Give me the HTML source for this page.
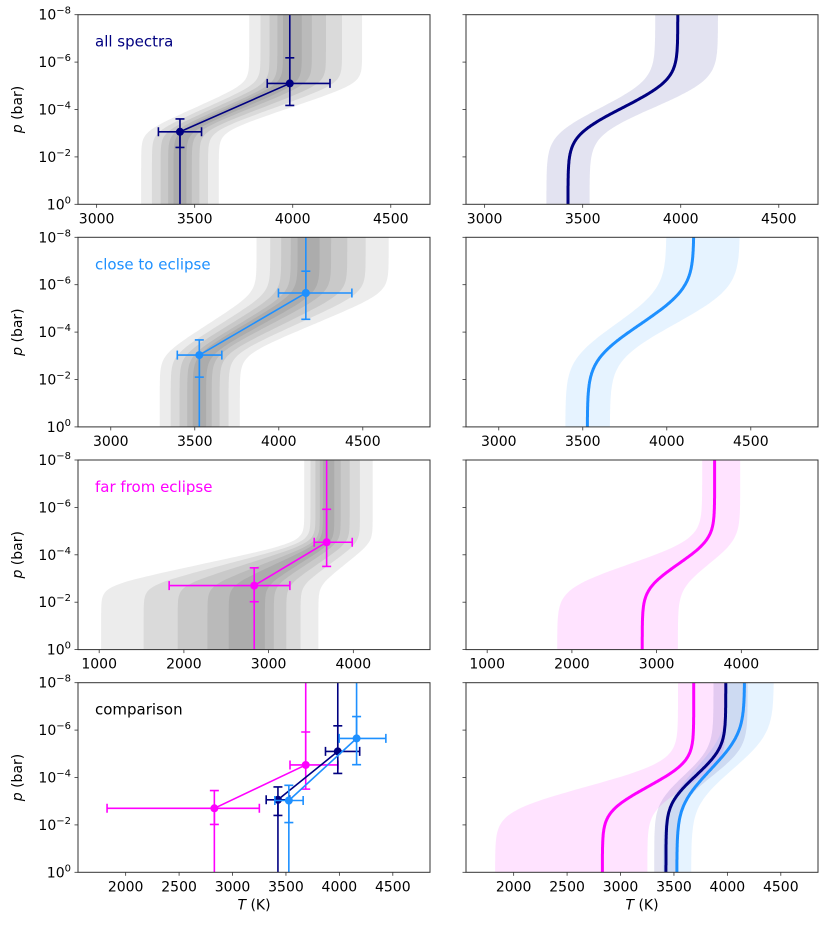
<!DOCTYPE html>
<html><head><meta charset="utf-8"><style>
body{margin:0;background:#fff;}
svg{display:block;font-family:"DejaVu Sans","Liberation Sans",sans-serif;}
</style></head><body>
<svg id="fig" width="830" height="925" viewBox="0 0 830 925" xmlns="http://www.w3.org/2000/svg"></svg>
<script>
// ---- data ----
const datasetNames = ["all spectra","close to eclipse","far from eclipse"];
const datasetColors = ["#000080","#1e90ff","#ff00ff"];
const pointT   = [[3425,3985],[3527,4161],[2830,3685]];
const pointTlo = [[3315,3870],[3396,3998],[1826,3538]];
const pointThi = [[3535,4190],[3661,4435],[3251,3987]];
const pointLogP   = [[-3.06,-5.10],[-3.03,-5.65],[-2.70,-4.53]];
const pointLogPUp = [[-3.60,-6.18],[-3.67,-6.57],[-3.45,-5.92]];
const pointLogPDn = [[-2.40,-4.17],[-2.10,-4.54],[-2.02,-3.51]];
const rowXLim = [[2905,4700],[2805,4900],[750,4905],[1554,4848]];
const rowTicks = [[3000,3500,4000,4500],[3000,3500,4000,4500],[1000,2000,3000,4000],[2000,2500,3000,3500,4000,4500]];
const yTicks = [0,-2,-4,-6,-8];
const grayScales = [1.8,1.3,0.9,0.55,0.3];

const NS="http://www.w3.org/2000/svg";
const svg=document.getElementById('fig');
const colX=[78,466], W=352, rowY=[14.7,237.3,460,682.7], H=189.6;
function mk(tag,attrs,parent){const e=document.createElementNS(NS,tag);for(const k in attrs)e.setAttribute(k,attrs[k]);(parent||svg).appendChild(e);return e;}
function sp(x){return x>30?x:Math.log(1+Math.exp(x));}
function prof(lp,Tl,Th,lp1,lp2,k){const u=(lp-lp1)/(lp2-lp1);const f=(sp(k*u)-sp(k*(u-1)))/k;return Tl+(Th-Tl)*f;}
function lpGrid(){const a=[];for(let i=0;i<=200;i++)a.push(-i*8/200);return a;}

function panel(r,c){
  const x0=colX[c],y0=rowY[r],lim=rowXLim[r];
  const sx=t=>x0+(t-lim[0])/(lim[1]-lim[0])*W;
  const sy=lp=>y0+H+lp/8*H;
  const g=mk('g',{});
  
  
  const cid=`clip${r}${c}`;
  const cp=mk('clipPath',{id:cid},g);mk('rect',{x:x0,y:y0,width:W,height:H},cp);
  const plot=mk('g',{'clip-path':`url(#${cid})`},g);
  const grid=lpGrid();
  const sets=r<3?[r]:[2,0,1];
  function bandPath(i,lowT,highT,k){
    const L=grid.map(lp=>[sx(prof(lp,lowT[0],lowT[1],pointLogP[i][0],pointLogP[i][1],k)),sy(lp)]);
    const R=grid.map(lp=>[sx(prof(lp,highT[0],highT[1],pointLogP[i][0],pointLogP[i][1],k)),sy(lp)]).reverse();
    return 'M'+L.concat(R).map(p=>p[0].toFixed(1)+','+p[1].toFixed(1)).join('L')+'Z';
  }
  if(c===0){
    if(r<3){
      const i=r;
      grayScales.forEach((s,j)=>{
        const lo=[0,1].map(m=>pointT[i][m]-s*(pointT[i][m]-pointTlo[i][m]));
        const hi=[0,1].map(m=>pointT[i][m]+s*(pointThi[i][m]-pointT[i][m]));
        const p=mk('path',{d:bandPath(i,lo,hi,10),fill:'#000','fill-opacity':0.075},plot);
        
        
      });
    }
    sets.forEach(i=>{
      const col=datasetColors[i];
      const eg=mk('g',{stroke:col,'stroke-width':1.6,fill:'none'},plot);
      
      
      mk('line',{x1:sx(pointT[i][0]),y1:sy(pointLogP[i][0]),x2:sx(pointT[i][1]),y2:sy(pointLogP[i][1])},eg);
      mk('line',{x1:sx(pointT[i][0]),y1:sy(pointLogP[i][0]),x2:sx(pointT[i][0]),y2:sy(0)},eg);
      mk('line',{x1:sx(pointT[i][1]),y1:sy(pointLogP[i][1]),x2:sx(pointT[i][1]),y2:sy(-8)},eg);
      for(let m=0;m<2;m++){
        const X=sx(pointT[i][m]),Y=sy(pointLogP[i][m]);
        mk('line',{x1:sx(pointTlo[i][m]),y1:Y,x2:sx(pointThi[i][m]),y2:Y},eg);
        mk('line',{x1:sx(pointTlo[i][m]),y1:Y-4.5,x2:sx(pointTlo[i][m]),y2:Y+4.5},eg);
        mk('line',{x1:sx(pointThi[i][m]),y1:Y-4.5,x2:sx(pointThi[i][m]),y2:Y+4.5},eg);
        mk('line',{x1:X,y1:sy(pointLogPUp[i][m]),x2:X,y2:sy(pointLogPDn[i][m])},eg);
        mk('line',{x1:X-4.5,y1:sy(pointLogPUp[i][m]),x2:X+4.5,y2:sy(pointLogPUp[i][m])},eg);
        mk('line',{x1:X-4.5,y1:sy(pointLogPDn[i][m]),x2:X+4.5,y2:sy(pointLogPDn[i][m])},eg);
        const d=mk('circle',{cx:X,cy:Y,r:4,fill:col,stroke:'none'},plot);
        
        
      }
    });
  } else {
    sets.forEach(i=>{
      const b=mk('path',{d:bandPath(i,pointTlo[i],pointThi[i],5),fill:datasetColors[i],'fill-opacity':0.11},plot);
      
      
    });
    sets.forEach(i=>{
      const pts=grid.map(lp=>sx(prof(lp,pointT[i][0],pointT[i][1],pointLogP[i][0],pointLogP[i][1],5)).toFixed(1)+','+sy(lp).toFixed(1));
      const l=mk('polyline',{points:pts.join(' '),fill:'none',stroke:datasetColors[i],'stroke-width':3},plot);
      
      
    });
  }
  const fr=mk('rect',{x:x0,y:y0,width:W,height:H,fill:'none',stroke:'#333','stroke-width':1},g);
  
  
  rowTicks[r].forEach(t=>{
    const X=sx(t);
    mk('line',{x1:X,y1:y0+H,x2:X,y2:y0+H+3.5,stroke:'#333','stroke-width':0.8},g);
    const tx=mk('text',{x:X,y:y0+H+19,'text-anchor':'middle','font-size':14,fill:'#000'},g);
    tx.textContent=t;
    
    
  });
  yTicks.forEach(v=>{
    const Y=sy(v);
    mk('line',{x1:x0,y1:Y,x2:x0-3.5,y2:Y,stroke:'#333','stroke-width':0.8},g);
    if(c===0){
      const tx=mk('text',{x:x0-7,y:Y+5,'text-anchor':'end','font-size':14,fill:'#000'},g);
      
      
      const a=document.createElementNS(NS,'tspan');a.textContent='10';tx.appendChild(a);
      const e=document.createElementNS(NS,'tspan');e.setAttribute('dy','-6');e.setAttribute('font-size','10');e.textContent=String(v).replace('-','\u2212');tx.appendChild(e);
    }
  });
  if(c===0){
    const yl=mk('text',{x:0,y:0,transform:`translate(22,${y0+H/2}) rotate(-90)`,'text-anchor':'middle','font-size':14,fill:'#000'},g);
    yl.innerHTML='<tspan font-style="italic">p</tspan> (bar)';
    
    
    const lbl=mk('text',{x:95,y:y0+32,'font-size':15,fill:r<3?datasetColors[r]:'#000'},g);
    lbl.textContent=r<3?datasetNames[r]:'comparison';
    
    
  }
  if(r===3){
    const xl=mk('text',{x:x0+W/2,y:y0+H+37,'text-anchor':'middle','font-size':14,fill:'#000'},g);
    xl.innerHTML='<tspan font-style="italic">T</tspan> (K)';
    
    
  }
}
for(let r=0;r<4;r++)for(let c=0;c<2;c++)panel(r,c);
</script>
</body></html>
